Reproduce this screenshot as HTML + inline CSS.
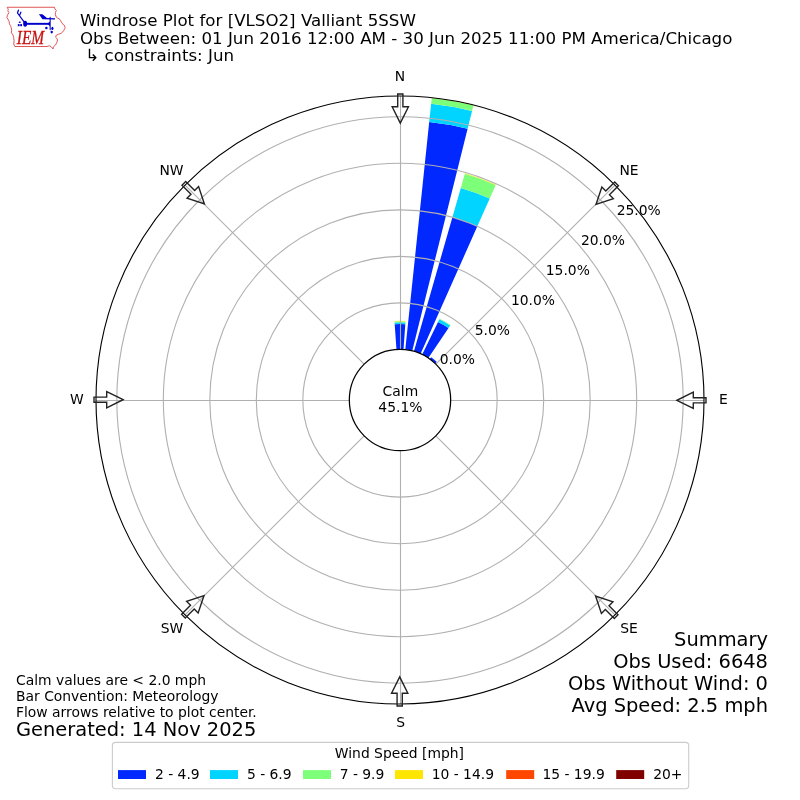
<!DOCTYPE html><html><head><meta charset="utf-8"><title>Windrose Plot for [VLSO2] Valliant 5SSW</title><style>html,body{margin:0;padding:0;background:#fff}svg{display:block}</style></head><body><svg width="800" height="800" viewBox="0 0 800 800">
<rect width="800" height="800" fill="#fff"/>
<g shape-rendering="geometricPrecision">
<path d="M396.47 349.46L394.70 324.17A76.01 76.01 0 0 1 405.30 324.17L403.53 349.46A50.67 50.67 0 0 0 396.47 349.46Z" fill="#0028ff"/>
<path d="M394.70 324.17L394.57 322.41A77.78 77.78 0 0 1 405.43 322.41L405.30 324.17A76.01 76.01 0 0 0 394.70 324.17Z" fill="#00d4ff"/>
<path d="M394.57 322.41L394.51 321.48A78.71 78.71 0 0 1 405.49 321.48L405.43 322.41A77.78 77.78 0 0 0 394.57 322.41Z" fill="#7dff7a"/>
<path d="M394.51 321.48L394.48 321.02A79.17 79.17 0 0 1 405.52 321.02L405.49 321.48A78.71 78.71 0 0 0 394.51 321.48Z" fill="#ffe600"/>
<path d="M405.30 349.61L429.21 122.08A279.45 279.45 0 0 1 467.60 128.85L412.26 350.84A50.67 50.67 0 0 0 405.30 349.61Z" fill="#0028ff"/>
<path d="M429.21 122.08L431.13 103.80A297.83 297.83 0 0 1 472.05 111.01L467.60 128.85A279.45 279.45 0 0 0 429.21 122.08Z" fill="#00d4ff"/>
<path d="M431.13 103.80L431.75 97.89A303.78 303.78 0 0 1 473.49 105.25L472.05 111.01A297.83 297.83 0 0 0 431.13 103.80Z" fill="#7dff7a"/>
<path d="M431.75 97.89L431.77 97.70A303.96 303.96 0 0 1 473.53 105.07L473.49 105.25A303.78 303.78 0 0 0 431.75 97.89Z" fill="#ffe600"/>
<path d="M413.97 351.30L452.48 216.97A190.41 190.41 0 0 1 477.45 226.06L420.61 353.71A50.67 50.67 0 0 0 413.97 351.30Z" fill="#0028ff"/>
<path d="M452.48 216.97L460.80 187.96A220.58 220.58 0 0 1 489.72 198.49L477.45 226.06A190.41 190.41 0 0 0 452.48 216.97Z" fill="#00d4ff"/>
<path d="M460.80 187.96L464.84 173.86A235.25 235.25 0 0 1 495.69 185.09L489.72 198.49A220.58 220.58 0 0 0 460.80 187.96Z" fill="#7dff7a"/>
<path d="M464.84 173.86L465.02 173.24A235.90 235.90 0 0 1 495.95 184.49L495.69 185.09A235.25 235.25 0 0 0 464.84 173.86Z" fill="#ffe600"/>
<path d="M422.21 354.46L438.04 322.00A86.79 86.79 0 0 1 448.53 328.05L428.33 358.00A50.67 50.67 0 0 0 422.21 354.46Z" fill="#0028ff"/>
<path d="M438.04 322.00L439.39 319.24A89.85 89.85 0 0 1 450.24 325.51L448.53 328.05A86.79 86.79 0 0 0 438.04 322.00Z" fill="#00d4ff"/>
<path d="M439.39 319.24L439.67 318.66A90.50 90.50 0 0 1 450.61 324.97L450.24 325.51A89.85 89.85 0 0 0 439.39 319.24Z" fill="#7dff7a"/>
<path d="M429.78 359.01L431.15 357.13A52.99 52.99 0 0 1 436.81 361.88L435.20 363.55A50.67 50.67 0 0 0 429.78 359.01Z" fill="#0028ff"/>
</g>
<g fill="none" stroke="#b0b0b0" stroke-width="1.11">
<circle cx="400.0" cy="400.0" r="97.17"/>
<circle cx="400.0" cy="400.0" r="143.68"/>
<circle cx="400.0" cy="400.0" r="190.18"/>
<circle cx="400.0" cy="400.0" r="236.69"/>
<circle cx="400.0" cy="400.0" r="283.19"/>
<path d="M400.50 349.33L400.50 96.00"/>
<path d="M435.83 364.17L614.96 185.04"/>
<path d="M450.67 400.50L704.00 400.50"/>
<path d="M435.83 435.83L614.96 614.96"/>
<path d="M400.50 450.67L400.50 704.00"/>
<path d="M364.17 435.83L185.04 614.96"/>
<path d="M349.33 400.50L96.00 400.50"/>
<path d="M364.17 364.17L185.04 185.04"/>
</g>
<circle cx="400.0" cy="400.0" r="304.0" fill="none" stroke="#000" stroke-width="1.13"/>
<circle cx="400.0" cy="400.0" r="50.67" fill="#fff" stroke="#000" stroke-width="1.25"/>
<path d="M400.29 123.10L408.46 106.71L402.91 106.70L402.92 94.00L397.72 94.00L397.71 106.70L392.16 106.69Z" fill="none" stroke="#222" stroke-width="1.39" stroke-linejoin="miter"/>
<path d="M596.00 204.41L613.37 198.59L609.45 194.66L618.44 185.69L614.76 182.01L605.77 190.98L601.85 187.05Z" fill="none" stroke="#222" stroke-width="1.39" stroke-linejoin="miter"/>
<path d="M676.90 400.29L693.29 408.46L693.30 402.91L706.00 402.92L706.00 397.72L693.30 397.71L693.31 392.16Z" fill="none" stroke="#222" stroke-width="1.39" stroke-linejoin="miter"/>
<path d="M595.59 596.00L601.41 613.37L605.34 609.45L614.31 618.44L617.99 614.76L609.02 605.77L612.95 601.85Z" fill="none" stroke="#222" stroke-width="1.39" stroke-linejoin="miter"/>
<path d="M399.71 676.90L391.54 693.29L397.09 693.30L397.08 706.00L402.28 706.00L402.29 693.30L407.84 693.31Z" fill="none" stroke="#222" stroke-width="1.39" stroke-linejoin="miter"/>
<path d="M204.00 595.59L186.63 601.41L190.55 605.34L181.56 614.31L185.24 617.99L194.23 609.02L198.15 612.95Z" fill="none" stroke="#222" stroke-width="1.39" stroke-linejoin="miter"/>
<path d="M123.10 399.71L106.71 391.54L106.70 397.09L94.00 397.08L94.00 402.28L106.70 402.29L106.69 407.84Z" fill="none" stroke="#222" stroke-width="1.39" stroke-linejoin="miter"/>
<path d="M204.41 204.00L198.59 186.63L194.66 190.55L185.69 181.56L182.01 185.24L190.98 194.23L187.05 198.15Z" fill="none" stroke="#222" stroke-width="1.39" stroke-linejoin="miter"/>
<g font-family="'DejaVu Sans', 'Liberation Sans', sans-serif" fill="#000">
<text x="80" y="26" font-size="16.67" text-anchor="start">Windrose Plot for [VLSO2] Valliant 5SSW</text>
<text x="80" y="43.5" font-size="16.67" text-anchor="start">Obs Between: 01 Jun 2016 12:00 AM - 30 Jun 2025 11:00 PM America/Chicago</text>
<text x="85.3" y="61" font-size="16.67" text-anchor="start">↳ constraints: Jun</text>
<text x="400" y="81.1" font-size="13.89" text-anchor="middle">N</text>
<text x="629" y="174.6" font-size="13.89" text-anchor="middle">NE</text>
<text x="723.4" y="404.2" font-size="13.89" text-anchor="middle">E</text>
<text x="629" y="633.1" font-size="13.89" text-anchor="middle">SE</text>
<text x="400.6" y="726.6" font-size="13.89" text-anchor="middle">S</text>
<text x="171.9" y="633.1" font-size="13.89" text-anchor="middle">SW</text>
<text x="76.8" y="404.1" font-size="13.89" text-anchor="middle">W</text>
<text x="171.5" y="174.6" font-size="13.89" text-anchor="middle">NW</text>
<text x="457.3" y="364" font-size="13.89" text-anchor="middle">0.0%</text>
<text x="492.3" y="335" font-size="13.89" text-anchor="middle">5.0%</text>
<text x="533" y="304.7" font-size="13.89" text-anchor="middle">10.0%</text>
<text x="567.8" y="274.6" font-size="13.89" text-anchor="middle">15.0%</text>
<text x="603" y="245" font-size="13.89" text-anchor="middle">20.0%</text>
<text x="638.75" y="215" font-size="13.89" text-anchor="middle">25.0%</text>
<text x="400.4" y="396" font-size="13.89" text-anchor="middle">Calm</text>
<text x="400.4" y="412" font-size="13.89" text-anchor="middle">45.1%</text>
<text x="16" y="685" font-size="13.89" text-anchor="start">Calm values are &lt; 2.0 mph</text>
<text x="16" y="701" font-size="13.89" text-anchor="start">Bar Convention: Meteorology</text>
<text x="16" y="717" font-size="13.89" text-anchor="start">Flow arrows relative to plot center.</text>
<text x="16" y="736" font-size="19.44" text-anchor="start">Generated: 14 Nov 2025</text>
<text x="768" y="646" font-size="19.44" text-anchor="end">Summary</text>
<text x="768" y="668" font-size="19.44" text-anchor="end">Obs Used: 6648</text>
<text x="768" y="690" font-size="19.44" text-anchor="end">Obs Without Wind: 0</text>
<text x="768" y="712" font-size="19.44" text-anchor="end">Avg Speed: 2.5 mph</text>
<rect x="112.4" y="742.4" width="576.3" height="46.35" rx="3.2" fill="#fff" fill-opacity="0.8" stroke="#ccc" stroke-width="1.11"/>
<text x="399.4" y="758" font-size="13.89" text-anchor="middle">Wind Speed [mph]</text>
<rect x="118" y="770.1" width="28" height="8.9" fill="#0028ff"/>
<text x="154.95" y="779" font-size="13.89" text-anchor="start">2 - 4.9</text>
<rect x="210" y="770.1" width="28" height="8.9" fill="#00d4ff"/>
<text x="246.9" y="779" font-size="13.89" text-anchor="start">5 - 6.9</text>
<rect x="303" y="770.1" width="28" height="8.9" fill="#7dff7a"/>
<text x="339.65" y="779" font-size="13.89" text-anchor="start">7 - 9.9</text>
<rect x="395" y="770.1" width="28" height="8.9" fill="#ffe600"/>
<text x="431.65" y="779" font-size="13.89" text-anchor="start">10 - 14.9</text>
<rect x="506.2" y="770.1" width="28" height="8.9" fill="#ff4700"/>
<text x="542.4" y="779" font-size="13.89" text-anchor="start">15 - 19.9</text>
<rect x="616.2" y="770.1" width="28" height="8.9" fill="#800000"/>
<text x="653.15" y="779" font-size="13.89" text-anchor="start">20+</text>
</g>
<g id="logo">
<path d="M7.15 7.25L54.5 7.25L54.9 8.95L56.3 10.5L55.4 12.55L55.4 14.8L56.3 17.05L57.85 18.2L59.4 18.85L60.55 20.65L61.9 22.9L63.25 24.7L64.6 25.6L65 27.5L64.8 28.7L63.7 30.5L62.8 31.85L61 33.4L58.3 34.3L56.3 35.2L55.6 37.25L56.7 38.15L57.6 39.95L56.95 42.2L55.6 44.9L53.35 46.9L53.1 48.95L50.9 46.5L49.5 45.8L47 46.5L14.8 46.5L13.7 44L14.1 40.85L13.7 37.7L13 35L11.4 32.75L11.65 30.5L11.2 27.35L10.3 25.6L9.4 23.8L9.2 21.55L8.05 19.3L6.9 17.5L7.4 15.25L8.95 12.55L7.8 10.75L8.3 9.4Z" fill="none" stroke="#da4444" stroke-width="0.9" stroke-linejoin="round"/>
<g fill="#0000cc" stroke="none">
<ellipse cx="25.15" cy="23.7" rx="2" ry="3"/>
<rect x="25" y="22.85" width="25" height="1.95"/>
<path d="M47.3 23.8L50 21.4L50 26.2Z"/>
<path d="M38.9 14.2L42.4 14.2L47 18.1L55 18.3L55 19.4L42.5 19.2Z"/>
<ellipse cx="19.75" cy="22.2" rx="1.05" ry="0.75"/>
<rect x="17.8" y="24.1" width="1.8" height="2.1"/>
<rect x="20.2" y="24.1" width="1.8" height="2.1"/>
<circle cx="46.4" cy="28.1" r="1.25"/>
<ellipse cx="52.4" cy="28.4" rx="1.1" ry="1.65"/>
<ellipse cx="51.7" cy="32.1" rx="1.2" ry="1.4"/>
</g>
<g fill="none" stroke="#0000cc" stroke-linecap="round">
<path d="M25 23L17.5 13L18.4 10.2M19.5 15.4L20.9 12.2" stroke-width="1.25"/>
<path d="M50.2 17.5L50.2 29.6" stroke-width="1.3" stroke-opacity="0.8"/>
</g>
<text x="16.8" y="43.8" font-family="'Liberation Serif', 'DejaVu Serif', serif" font-style="italic" font-size="17.9" fill="#cc1111" stroke="#cc1111" stroke-width="0.3" textLength="27.3" lengthAdjust="spacingAndGlyphs">IEM</text>
</g>

</svg></body></html>
